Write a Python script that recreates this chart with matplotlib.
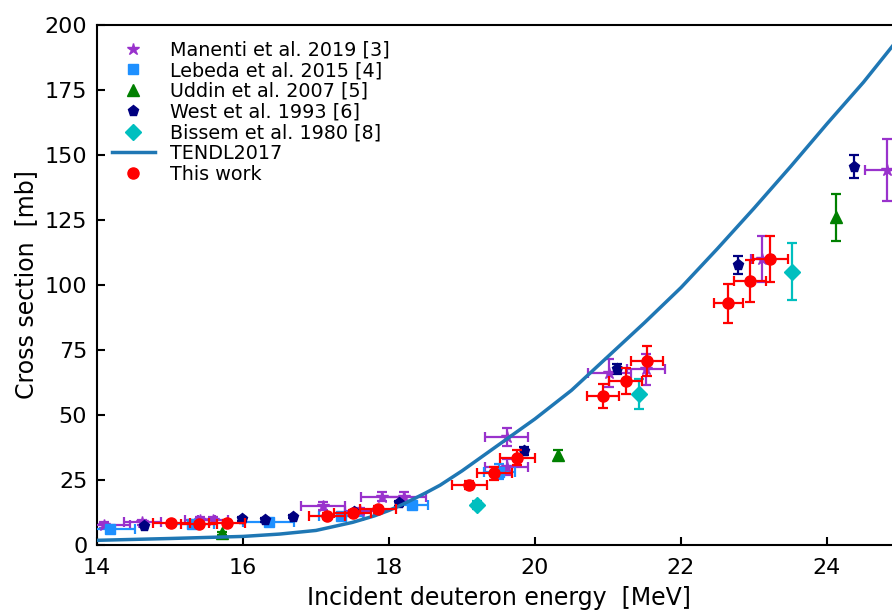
import matplotlib
matplotlib.use("Agg")
import matplotlib.pyplot as plt
from matplotlib.lines import Line2D

# Manenti et al. 2019 [3]
man_E = [14.10, 14.62, 15.41, 15.59, 17.10, 17.60, 17.91, 18.21, 19.61, 19.61, 21.02, 21.52, 23.11, 24.82]
man_s = [7.7, 8.8, 9.6, 9.6, 15.0, 13.2, 18.6, 18.6, 41.4, 30.1, 66.0, 67.6, 110.0, 144.2]
man_dE = [0.35, 0.25, 0.2, 0.2, 0.3, 0.2, 0.3, 0.3, 0.3, 0.3, 0.3, 0.26, 0.15, 0.3]
man_ds = [1.0, 1.0, 1.2, 1.2, 1.5, 1.2, 1.8, 1.8, 3.5, 3.0, 5.4, 6.0, 9.0, 12.0]

# Lebeda et al. 2015 [4]
leb_E = [14.18, 15.30, 16.35, 17.34, 18.32, 19.51]
leb_s = [6.0, 8.0, 9.0, 11.2, 15.4, 28.2]
leb_dE = [0.34, 0.3, 0.35, 0.3, 0.22, 0.21]
leb_ds = [0.8, 0.8, 0.9, 1.1, 1.5, 3.0]

# Uddin et al. 2007 [5]
udd_E = [15.71, 20.31, 24.12]
udd_s = [4.5, 34.6, 126.0]
udd_ds = [0.5, 2.0, 9.0]

# West et al. 1993 [6]
wes_E = [14.65, 15.98, 16.30, 16.69, 17.52, 18.14, 19.85, 21.12, 22.78, 24.37]
wes_s = [7.3, 10.0, 9.6, 10.9, 12.8, 16.0, 36.3, 67.6, 107.7, 145.5]
wes_ds = [0.5, 0.6, 0.6, 0.7, 0.8, 1.0, 1.5, 2.0, 3.5, 4.5]

# Bissem et al. 1980 [8]
bis_E = [19.21, 21.42, 23.52]
bis_s = [15.4, 58.0, 105.1]
bis_ds = [1.5, 5.8, 11.0]

# TENDL2017
ten_E = [14.0, 15.0, 16.0, 16.5, 17.0, 17.5, 17.8, 18.0, 18.2, 18.5, 18.7, 19.0,
         19.5, 20.0, 20.5, 21.0, 21.5, 22.0, 22.5, 23.0, 23.5, 24.0, 24.5, 25.0]
ten_s = [1.8, 2.5, 3.3, 4.2, 5.6, 8.7, 11.2, 13.3, 15.8, 20.0, 23.0, 28.5,
         38.5, 48.5, 59.5, 72.5, 85.5, 99.0, 114.0, 129.5, 145.5, 162.0, 178.0, 195.5]

# This work
tw_E = [15.02, 15.40, 15.78, 17.15, 17.50, 17.85, 19.10, 19.44, 19.76,
        20.93, 21.24, 21.54, 22.65, 22.94, 23.22]
tw_s = [8.3, 8.0, 8.6, 11.2, 12.2, 13.7, 23.1, 27.6, 33.6,
        57.3, 63.1, 70.8, 93.0, 101.5, 110.0]
tw_dE = [0.25, 0.25, 0.25, 0.25, 0.25, 0.25, 0.24, 0.24, 0.24,
         0.22, 0.22, 0.22, 0.2, 0.22, 0.24]
tw_ds = [1.0, 1.0, 1.0, 1.2, 1.2, 1.3, 1.5, 2.5, 3.0,
         4.7, 5.0, 5.7, 7.5, 8.0, 9.0]

fig = plt.figure(figsize=(8.92, 6.12), dpi=100)
ax = fig.add_axes([97/892, 1-545/612, 803/892, 520/612])

kw = dict(linestyle='none', capsize=3.5, elinewidth=1.6, capthick=1.6)
ax.errorbar(man_E, man_s, xerr=man_dE, yerr=man_ds, fmt='*', color='darkorchid', markersize=9, zorder=3, **kw)
ax.errorbar(leb_E, leb_s, xerr=leb_dE, yerr=leb_ds, fmt='s', color='dodgerblue', markersize=7, zorder=3, **kw)
ax.errorbar(udd_E, udd_s, yerr=udd_ds, fmt='^', color='green', markersize=8, zorder=3, **kw)
ax.errorbar(wes_E, wes_s, yerr=wes_ds, fmt='p', color='navy', markersize=8, zorder=3, **kw)
ax.errorbar(bis_E, bis_s, yerr=bis_ds, fmt='D', color='c', markersize=8, zorder=3, **kw)
ax.plot(ten_E, ten_s, color='#1f77b4', linewidth=2.5, zorder=4)
ax.errorbar(tw_E, tw_s, xerr=tw_dE, yerr=tw_ds, fmt='o', color='red', markersize=8, zorder=5, **kw)

handles = [
    Line2D([], [], marker='*', color='darkorchid', linestyle='none', markersize=9),
    Line2D([], [], marker='s', color='dodgerblue', linestyle='none', markersize=7),
    Line2D([], [], marker='^', color='green', linestyle='none', markersize=8),
    Line2D([], [], marker='p', color='navy', linestyle='none', markersize=8),
    Line2D([], [], marker='D', color='c', linestyle='none', markersize=8),
    Line2D([], [], color='#1f77b4', linewidth=2.5),
    Line2D([], [], marker='o', color='red', linestyle='none', markersize=8),
]
labels = ['Manenti et al. 2019 [3]', 'Lebeda et al. 2015 [4]', 'Uddin et al. 2007 [5]',
          'West et al. 1993 [6]', 'Bissem et al. 1980 [8]', 'TENDL2017', 'This work']
ax.legend(handles, labels, loc='upper left', frameon=False, fontsize=13.8,
          handlelength=2.2, handletextpad=0.8, labelspacing=0.09, borderaxespad=0.5,
          borderpad=0.3)

ax.set_xlim(14, 25)
ax.set_ylim(0, 200)
ax.set_xticks([14, 16, 18, 20, 22, 24])
ax.set_yticks([0, 25, 50, 75, 100, 125, 150, 175, 200])
ax.tick_params(direction='in', labelsize=16, length=6, width=1.5)
ax.tick_params(axis='x', pad=9)
ax.tick_params(axis='y', pad=7)
for sp in ax.spines.values():
    sp.set_linewidth(1.5)
ax.set_xlabel('Incident deuteron energy  [MeV]', fontsize=17, labelpad=6)
ax.set_ylabel('Cross section  [mb]', fontsize=17, labelpad=5)

fig.savefig('out.png', dpi=100)
